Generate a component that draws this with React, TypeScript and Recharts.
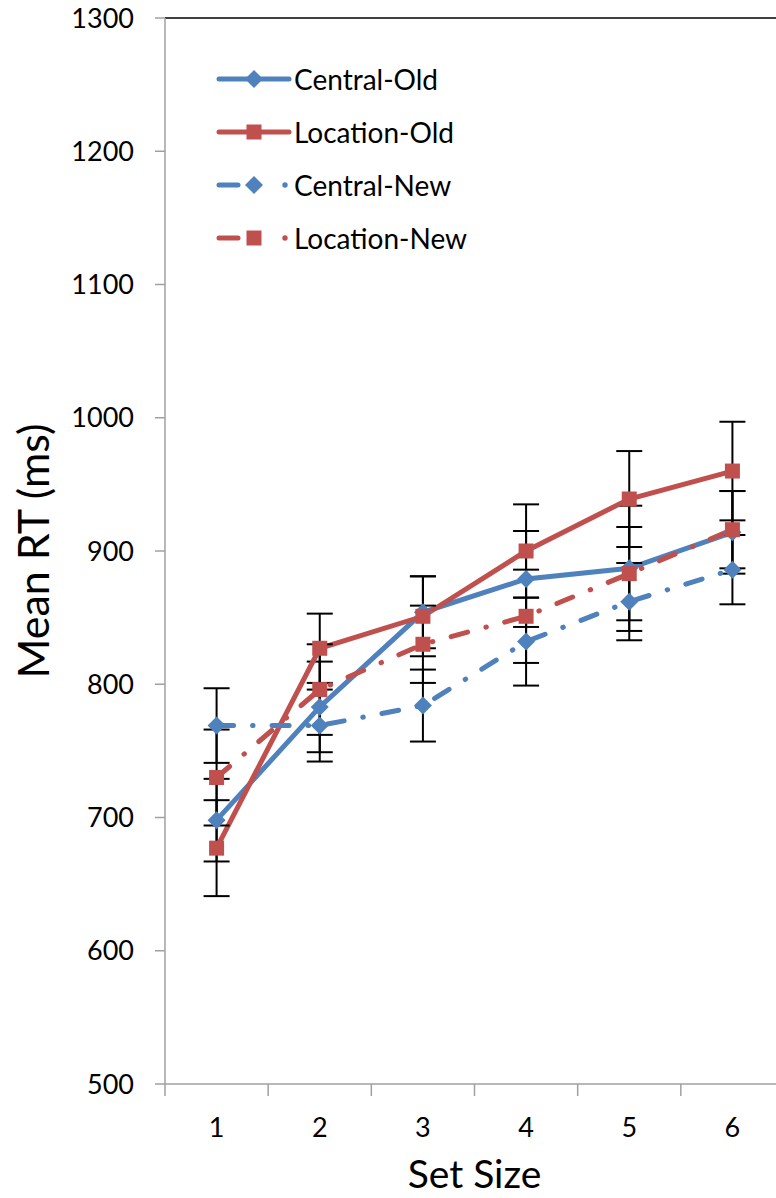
import { LineChart, Line, XAxis, YAxis, ErrorBar, Legend, ReferenceLine, Label } from 'recharts';

const setSizes = [1, 2, 3, 4, 5, 6];
const centralOld = [698, 783, 854, 879, 887, 914];
const centralOldErr = [31, 34, 27, 36, 47, 31];
const locationOld = [677, 827, 851, 900, 939, 960];
const locationOldErr = [36, 26, 30, 35, 36, 37];
const centralNew = [769, 769, 784, 832, 862, 886];
const centralNewErr = [28, 27, 27, 33, 29, 26];
const locationNew = [730, 796, 830, 851, 883, 916];
const locationNewErr = [36, 34, 29, 35, 35, 29];

const yTicks = [500, 600, 700, 800, 900, 1000, 1100, 1200, 1300];
const xTicks = [0.5, 1, 1.5, 2, 2.5, 3, 3.5, 4, 4.5, 5, 5.5, 6, 6.5];

const BLUE = '#4F81BD';
const RED = '#C0504D';
const AXIS = '#A0A0A0';
const FONT = "Lato, 'Open Sans', sans-serif";
const DASH = '17 19 0.5 19';

const series = [
  { key: 'co', name: 'Central-Old', color: BLUE, shape: 'diamond', dashed: false },
  { key: 'lo', name: 'Location-Old', color: RED, shape: 'square', dashed: false },
  { key: 'cn', name: 'Central-New', color: BLUE, shape: 'diamond', dashed: true },
  { key: 'ln', name: 'Location-New', color: RED, shape: 'square', dashed: true },
];

const rows = setSizes.map((s, i) => ({
  size: s,
  co: centralOld[i], coErr: centralOldErr[i],
  lo: locationOld[i], loErr: locationOldErr[i],
  cn: centralNew[i], cnErr: centralNewErr[i],
  ln: locationNew[i], lnErr: locationNewErr[i],
}));

function marker(shape: string, color: string, cx: number, cy: number, key?: string) {
  if (shape === 'diamond') {
    const r = 9;
    return <polygon key={key} points={`${cx},${cy - r} ${cx + r},${cy} ${cx},${cy + r} ${cx - r},${cy}`} fill={color} stroke="none" />;
  }
  return <rect key={key} x={cx - 7.5} y={cy - 7.5} width={15} height={15} fill={color} stroke="none" />;
}

const XTick = (props: any) => {
  const { x, y, payload } = props;
  const v = payload.value;
  if (Number.isInteger(v)) {
    return (
      <text x={x} y={y + 53} textAnchor="middle" fontSize={27} fontFamily={FONT} fill="#000">{v}</text>
    );
  }
  return <line x1={x} y1={y} x2={x} y2={y + 12} stroke={AXIS} strokeWidth={1.5} />;
};

const LegendBox = () => (
  <div style={{ fontFamily: FONT, fontSize: 28, color: '#000' }}>
    {series.map(s => (
      <div key={s.key} style={{ display: 'flex', alignItems: 'center', height: 53 }}>
        <svg width={78} height={30}>
          {s.dashed ? (
            <g>
              <line x1={5} y1={15} x2={24} y2={15} stroke={s.color} strokeWidth={5} strokeLinecap="round" />
              <circle cx={71} cy={15} r={2.7} fill={s.color} />
            </g>
          ) : (
            <line x1={5} y1={15} x2={75} y2={15} stroke={s.color} strokeWidth={5} strokeLinecap="round" />
          )}
          {marker(s.shape, s.color, 40, 15)}
        </svg>
        <span style={{ marginLeft: 2 }}>{s.name}</span>
      </div>
    ))}
  </div>
);

export default function App() {
  return (
    <div style={{ position: 'absolute', left: 0, top: 0, width: 776, height: 1198, overflow: 'hidden', background: '#fff' }}>
      <LineChart width={784} height={1198} data={rows} margin={{ top: 18, right: 0, bottom: 0, left: 65 }}>
        <XAxis
          dataKey="size"
          type="number"
          domain={[0.5, 6.5]}
          ticks={xTicks}
          interval={0}
          height={114}
          stroke={AXIS}
          strokeWidth={1.5}
          tickLine={false}
          tickSize={0}
          tickMargin={0}
          tick={<XTick />}
        >
          <Label
            content={(p: any) => {
              const vb = p.viewBox;
              return (
                <text x={vb.x + vb.width / 2} y={vb.y + 104} textAnchor="middle" fontSize={39} fontFamily={FONT} fill="#000">Set Size</text>
              );
            }}
          />
        </XAxis>
        <YAxis
          type="number"
          domain={[500, 1300]}
          ticks={yTicks}
          interval={0}
          width={100}
          stroke={AXIS}
          strokeWidth={1.5}
          tickSize={10}
          tickMargin={21}
          tick={{ fontSize: 27, fontFamily: FONT, fill: '#000' }}
        >
          <Label
            content={(p: any) => {
              const vb = p.viewBox;
              const cx = 32;
              const cy = vb.y + vb.height / 2;
              return (
                <text x={cx} y={cy} transform={`rotate(-90 ${cx} ${cy})`} textAnchor="middle" dominantBaseline="central" fontSize={43} fontFamily={FONT} fill="#000">Mean RT (ms)</text>
              );
            }}
          />
        </YAxis>
        <ReferenceLine y={1300} stroke="#000" strokeWidth={1.5} />
        <Legend
          layout="vertical"
          align="center"
          verticalAlign="middle"
          content={() => <LegendBox />}
          wrapperStyle={{ left: 214, top: 52, width: 'auto', right: 'auto', bottom: 'auto' }}
        />
        {series.map(s => (
          <Line
            key={s.key}
            dataKey={s.key}
            name={s.name}
            type="linear"
            stroke={s.color}
            strokeWidth={5}
            strokeDasharray={s.dashed ? DASH : undefined}
            strokeLinecap="round"
            isAnimationActive={false}
            dot={(p: any) => marker(s.shape, s.color, p.cx, p.cy, `${s.key}-${p.index}`)}
            activeDot={false}
          >
            <ErrorBar dataKey={`${s.key}Err`} direction="y" width={13} stroke="#000" strokeWidth={2} />
          </Line>
        ))}
      </LineChart>
    </div>
  );
}
